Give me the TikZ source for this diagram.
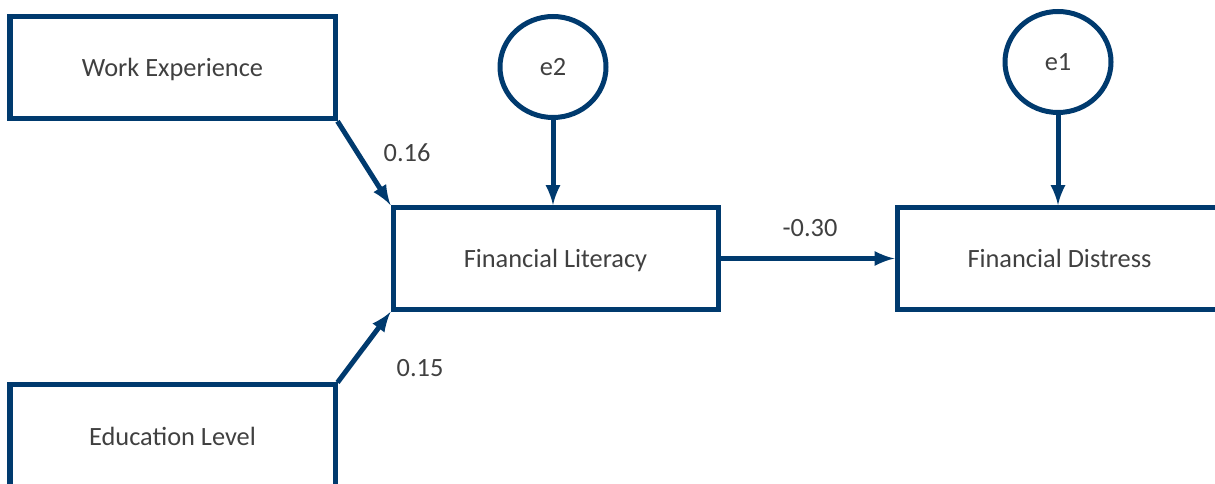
\documentclass[tikz,border=0pt]{standalone}
\usepackage{fontspec}
\setmainfont{Carlito}
\definecolor{pathblue}{HTML}{003A6E}
\definecolor{labelgray}{HTML}{404040}
\tikzset{
	varbox/.style={draw=pathblue, line width=0.1cm, minimum width=6.5cm, minimum height=2.04cm, text depth=0pt, text=labelgray, font=\fontsize{15}{18}\selectfont},
	errnode/.style={draw=pathblue, line width=0.1cm, ellipse, minimum width=2.12cm, minimum height=2.02cm, inner sep=0pt, text=labelgray, font=\fontsize{15}{18}\selectfont},
	path/.style={draw=pathblue, line width=0.1cm, -latex},
	weight/.style={text=labelgray, font=\fontsize{15}{18}\selectfont}
}
\usetikzlibrary{shapes.geometric}
\begin{document}
\begin{tikzpicture}
		\useasboundingbox (0,0) rectangle (24.3,-9.68);
		\clip (0,0) rectangle (24.3,-9.68);
		% observed variables
		\node[varbox] (work) at (3.45,-1.355) {Work Experience};
		\node[varbox] (edu) at (3.45,-8.72) {Education Level};
		\node[varbox] (lit) at (11.11,-5.17) {Financial Literacy};
		\node[varbox] (dist) at (21.19,-5.17) {Financial Distress};
		% error terms
		\node[errnode] (e2) at (11.06,-1.34) {e2};
		\node[errnode] (e1) at (21.16,-1.24) {e1};
		% paths
		\draw[path] (work.south east) -- (lit.north west);
		\draw[path] (edu.north east) -- (lit.south west);
		\draw[path] (lit.east) -- (dist.west);
		\draw[path] (e2.south) -- (e2.south |- lit.north);
		\draw[path] (e1.south) -- (e1.south |- dist.north);
		% coefficients
		\node[weight] (w1) at (8.14,-3.06) {0.16};
		\node[weight] (w2) at (8.4,-7.36) {0.15};
		\node[weight] (w3) at (16.2,-4.56) {-0.30};
	\end{tikzpicture}
\end{document}
